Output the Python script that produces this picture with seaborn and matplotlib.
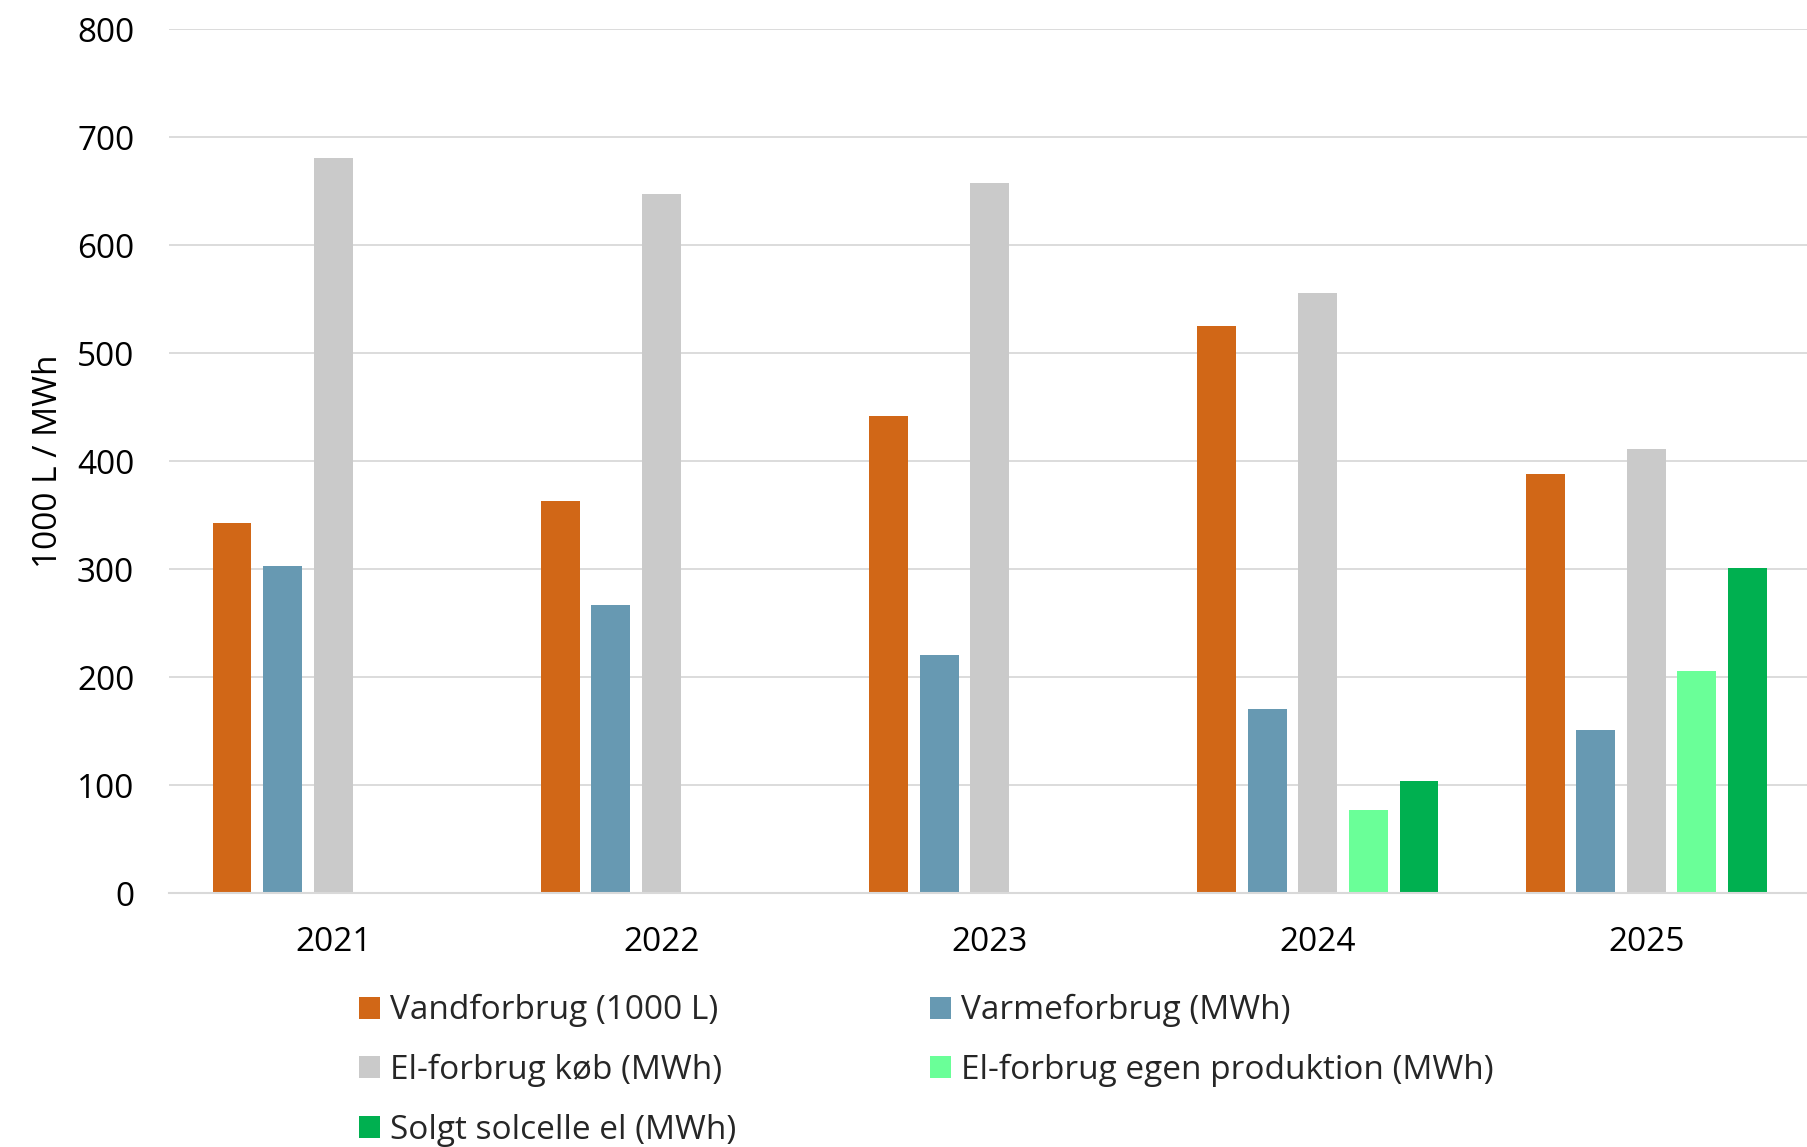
import numpy as np
import pandas as pd
import matplotlib
matplotlib.use("Agg")
import matplotlib.pyplot as plt
import seaborn as sns

years = ["2021", "2022", "2023", "2024", "2025"]
series_names = [
    "Vandforbrug (1000 L)",
    "Varmeforbrug (MWh)",
    "El-forbrug køb (MWh)",
    "El-forbrug egen produktion (MWh)",
    "Solgt solcelle el (MWh)",
]
vandforbrug = [343, 363, 442, 525, 388]
varmeforbrug = [303, 267, 220, 170, 151]
el_koeb = [681, 647, 657, 556, 411]
el_egen = [np.nan, np.nan, np.nan, 77, 206]
solgt_sol = [np.nan, np.nan, np.nan, 104, 301]
colors = ["#D16717", "#6799B2", "#CACACA", "#6AFF98", "#00B050"]
y_ticks = [0, 100, 200, 300, 400, 500, 600, 700, 800]
y_label = "1000 L / MWh"

values = [vandforbrug, varmeforbrug, el_koeb, el_egen, solgt_sol]
rows = []
for name, vals in zip(series_names, values):
    for yr, v in zip(years, vals):
        rows.append({"År": yr, "Serie": name, "Værdi": v})
df = pd.DataFrame(rows)

sns.set_theme(style="white")
plt.rcParams["font.family"] = ["Open Sans", "DejaVu Sans"]

FS = 24
fig = plt.figure(figsize=(18.07, 11.47), dpi=100)
ax = fig.add_axes([169 / 1807, 1 - 893 / 1147, 1 - 169 / 1807, (893 - 29) / 1147])

sns.barplot(data=df, x="År", y="Værdi", hue="Serie", hue_order=series_names,
            order=years, palette=colors, width=0.77, gap=0.23, ax=ax,
            saturation=1, edgecolor="none", linewidth=0, legend=True)

ax.set_xlim(-0.5, 4.49)
ax.set_ylim(0, 800)
ax.set_yticks(y_ticks)
ax.set_yticklabels([str(t) for t in y_ticks])
ax.yaxis.grid(True, color="#D9D9D9", linewidth=1.3)
ax.set_axisbelow(True)
for s in ["left", "right", "top"]:
    ax.spines[s].set_visible(False)
ax.spines["bottom"].set_color("#D9D9D9")
ax.spines["bottom"].set_linewidth(1.5)
ax.tick_params(axis="y", length=0, pad=25, labelsize=FS, colors="black")
ax.tick_params(axis="x", length=0, pad=24, labelsize=FS, colors="black")
ax.set_xlabel("")
ax.set_ylabel(y_label, fontsize=FS, color="black")
ax.yaxis.set_label_coords(-0.0635, 0.5)

handles, labels = ax.get_legend_handles_labels()
ax.get_legend().remove()
order = [0, 2, 4, 1, 3]
fig.legend([handles[i] for i in order], [labels[i] for i in order],
           loc="upper left", bbox_to_anchor=(359 / 1807, 1 - 994 / 1147),
           ncol=2, frameon=False, fontsize=FS,
           handlelength=0.64, handleheight=0.64, handletextpad=0.3,
           columnspacing=5.8, labelspacing=0.8, borderaxespad=0, borderpad=0)

fig.savefig("out.png", dpi=100)
